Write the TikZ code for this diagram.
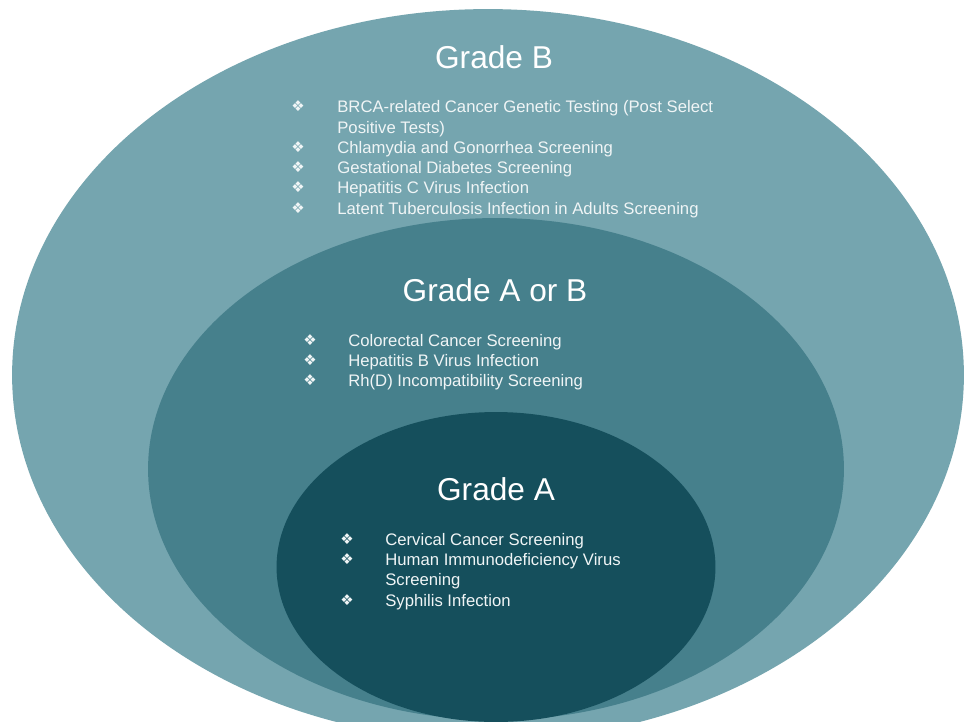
\documentclass[tikz,border=0pt]{standalone}
\usepackage{fontspec}
\setmainfont{Liberation Sans}
\newfontfamily\dejavu{DejaVu Sans}
\begin{document}
\begin{tikzpicture}[x=0.02cm,y=-0.02cm]
	\definecolor{xanhnhat}{RGB}{117,165,175}
	\definecolor{xanhvua}{RGB}{70,128,140}
	\definecolor{xanhdam}{RGB}{21,79,92}
	\definecolor{trang}{RGB}{240,245,246}
	\tikzset{
		tieude/.style={text=white,font=\fontsize{18}{22}\selectfont,inner sep=0},
		dong/.style={text=trang,font=\fontsize{9.5}{11}\selectfont,inner sep=0,anchor=base west},
		cham/.style={text=trang,font=\dejavu\fontsize{8.5}{9}\selectfont,inner sep=0}
	}
	\useasboundingbox (0,0) rectangle (964,721);
	\clip (0,0) rectangle (964,721);
	\fill[white] (0,0) rectangle (964,721);
	
	%Vòng ngoài, vòng giữa, vòng trong
	\fill[xanhnhat] (488,375) ellipse [x radius=9.52cm, y radius=7.32cm];
	\fill[xanhvua] (496,469) ellipse [x radius=6.96cm, y radius=5.02cm];
	\fill[xanhdam] (496,567) ellipse [x radius=4.39cm, y radius=3.1cm];
	
	%Tiêu đề
	\node[tieude] (gB) at (494,57) {Grade B};
	\node[tieude] (gAB) at (495,290) {Grade A or B};
	\node[tieude] (gA) at (496,489) {Grade A};
	
	%Grade B
	\foreach \y/\chu/\co [count=\i] in {
		106/{BRCA-related Cancer Genetic Testing (Post Select}/1,
		127/{Positive Tests)}/0,
		147/{Chlamydia and Gonorrhea Screening}/1,
		167/{Gestational Diabetes Screening}/1,
		187/{Hepatitis C Virus Infection}/1,
		208/{Latent Tuberculosis Infection in Adults Screening}/1
	}{
		\node[dong] (b\i) at (337,\y+6) {\chu};
		\ifnum\co=1 \node[cham] (cb\i) at (298,\y) {❖}; \fi
	}
	
	%Grade A or B
	\foreach \y/\chu [count=\i] in {
		340/{Colorectal Cancer Screening},
		360/{Hepatitis B Virus Infection},
		380/{Rh(D) Incompatibility Screening}
	}{
		\node[dong] (ab\i) at (348,\y+6) {\chu};
		\node[cham] (cab\i) at (310,\y) {❖};
	}
	
	%Grade A
	\foreach \y/\chu/\co [count=\i] in {
		539/{Cervical Cancer Screening}/1,
		559/{Human Immunodeficiency Virus}/1,
		579/{Screening}/0,
		600/{Syphilis Infection}/1
	}{
		\node[dong] (a\i) at (385,\y+6) {\chu};
		\ifnum\co=1 \node[cham] (ca\i) at (347,\y) {❖}; \fi
	}
\end{tikzpicture}
\end{document}
